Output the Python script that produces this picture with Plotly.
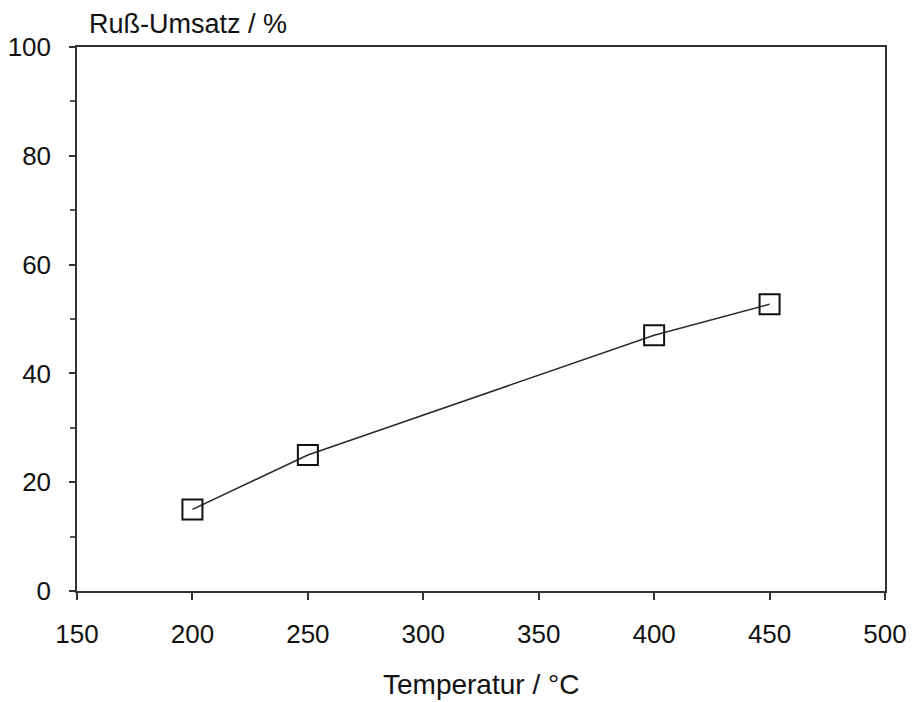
import plotly.graph_objects as go

temperature = [200, 250, 400, 450]
conversion = [15, 25, 47, 52.7]

x_ticks = [150, 200, 250, 300, 350, 400, 450, 500]
y_ticks = [0, 20, 40, 60, 80, 100]

x_title = "Temperatur / °C"
y_title = "Ruß-Umsatz / %"

fig = go.Figure()
fig.add_trace(go.Scatter(
    x=temperature, y=conversion, mode="lines+markers",
    line=dict(color="#2a2a2a", width=1.5),
    marker=dict(symbol="square-open", size=20, color="#111111", line=dict(width=2)),
    showlegend=False,
))

FAM = "Liberation Sans, Arial, sans-serif"
font = dict(family=FAM, size=26, color="#111111")
xt_font = dict(family=FAM, size=28, color="#111111")
yt_font = dict(family=FAM, size=27, color="#111111")
# page body has an 8px margin; plot area is placed at x 77..885, y 47..591 of the window
fig.update_layout(
    width=907, height=694,
    margin=dict(l=69, r=30, t=39, b=111),
    paper_bgcolor="white", plot_bgcolor="white",
    font=font,
    xaxis=dict(range=[150, 500], tickvals=x_ticks, showgrid=False, zeroline=False,
               showline=True, linecolor="#333333", linewidth=1.5, mirror=True,
               ticks="outside", ticklen=7, tickcolor="#333333", tickwidth=1.5,
               tickfont=font, ticklabelstandoff=12, automargin=False),
    yaxis=dict(range=[0, 100], tickvals=y_ticks, showgrid=False, zeroline=False,
               showline=True, linecolor="#333333", linewidth=1.5, mirror=True,
               ticks="outside", ticklen=6, tickcolor="#333333", tickwidth=1.5,
               tickfont=font, automargin=False,
               minor=dict(dtick=10, ticks="outside", ticklen=5, tickcolor="#555555"),
               ticklabelstandoff=13),
    annotations=[
        dict(text=y_title, x=0.012, xref="paper", y=1, yref="paper",
             xanchor="left", yanchor="bottom", yshift=6, showarrow=False, font=yt_font),
        dict(text=x_title, x=0.5, xref="paper", y=0, yref="paper",
             xanchor="center", yanchor="top", yshift=-76, showarrow=False, font=xt_font),
    ],
)

fig.write_html("out.html")
